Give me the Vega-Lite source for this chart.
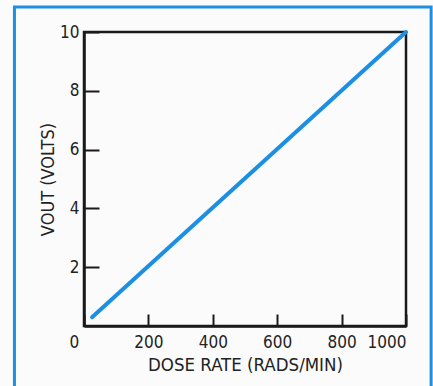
{
  "$schema": "https://vega.github.io/schema/vega-lite/v6.json",
  "width": 322,
  "height": 294,
  "autosize": {"type": "none"},
  "padding": {"left": 84, "top": 32, "right": 27, "bottom": 60},
  "background": "#fbfbfb",
  "config": {
    "view": {"stroke": "#1a1a1a", "strokeWidth": 2.5},
    "font": "DejaVu Sans Condensed",
    "axis": {
      "labelFont": "DejaVu Sans Condensed",
      "titleFont": "DejaVu Sans Condensed",
      "labelColor": "#222",
      "titleColor": "#222",
      "labelFontSize": 17,
      "titleFontSize": 18.5,
      "titleFontWeight": "normal",
      "grid": false,
      "domainColor": "#1a1a1a",
      "domainWidth": 2.5,
      "tickColor": "#1a1a1a",
      "tickWidth": 2
    }
  },
  "datasets": {
    "curve": [
      {"dose": 25, "vout": 0.3},
      {"dose": 1000, "vout": 10}
    ],
    "frame": [
      {"x0": -216, "x1": 1078, "y0": -2.5, "y1": 10.85}
    ]
  },
  "layer": [
    {
      "data": {"name": "frame"},
      "mark": {"type": "rect", "fill": null, "stroke": "#1c8fe3", "strokeWidth": 3},
      "encoding": {
        "x": {"field": "x0", "type": "quantitative", "scale": {"domain": [0, 1000]}},
        "x2": {"field": "x1"},
        "y": {"field": "y0", "type": "quantitative", "scale": {"domain": [0, 10]}},
        "y2": {"field": "y1"}
      }
    },
    {
      "data": {"name": "curve"},
      "mark": {"type": "line", "color": "#1c8fe3", "strokeWidth": 4, "strokeCap": "round"},
      "encoding": {
        "x": {
          "field": "dose", "type": "quantitative",
          "scale": {"domain": [0, 1000], "nice": false, "zero": false},
          "axis": {
            "title": "DOSE RATE (RADS/MIN)",
            "format": "d",
            "values": [0, 200, 400, 600, 800, 1000],
            "tickSize": -12,
            "labelPadding": 20,
            "labelOffset": {"expr": "datum.value == 0 ? -15 : 0"},
            "titlePadding": 5
          }
        },
        "y": {
          "field": "vout", "type": "quantitative",
          "scale": {"domain": [0, 10], "nice": false, "zero": false},
          "axis": {
            "title": "VOUT (VOLTS)",
            "titleFontSize": 18,
            "values": [2, 4, 6, 8, 10],
            "tickSize": -15,
            "labelPadding": 20,
            "titlePadding": 2
          }
        }
      }
    }
  ]
}
